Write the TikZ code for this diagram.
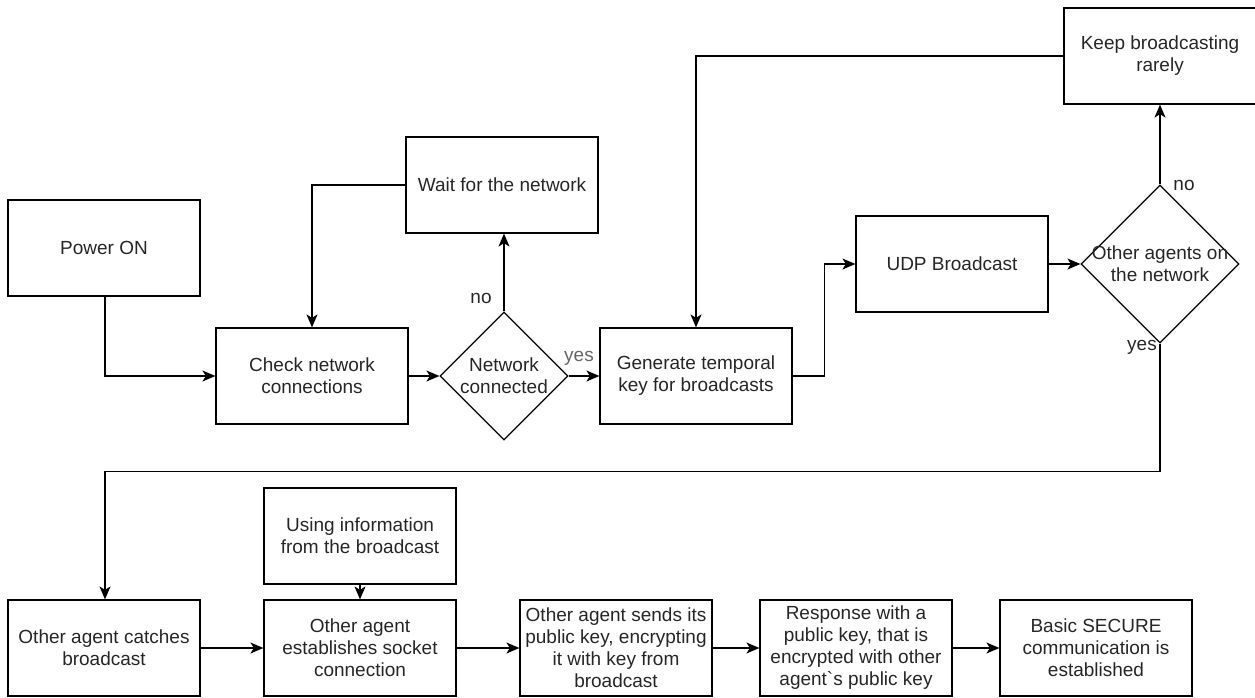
\documentclass[tikz,border=0pt]{standalone}
\usepackage{fontspec}
\setmainfont{Liberation Sans}
\usepackage{tikz}
\usetikzlibrary{arrows.meta, positioning, shapes.geometric}

\begin{document}
\begin{tikzpicture}[
    x=1pt, y=-1pt,
    box/.style={draw, line width=1.2pt, minimum width=192, minimum height=96, inner sep=1pt, align=center, text=black!85, font=\fontsize{19}{22}\selectfont},
    decision/.style={draw, diamond, line width=1.2pt, minimum size=#1, inner sep=0pt},
    dtext/.style={align=center, inner sep=0pt, text=black!85, font=\fontsize{19}{22}\selectfont},
    lbl/.style={inner sep=1pt, font=\fontsize{19}{22}\selectfont},
    arr/.style={-{Stealth[length=13pt, width=11pt, inset=3.5pt]}, line width=1.2pt},
    >=Stealth
]
\useasboundingbox (0,0) rectangle (1255,697);

% Start and network check
\node[box] (power) at (104, 248) {Power ON};
\node[box] (check) at (312, 376) {Check network\\connections};
\node[decision=128, label={[dtext]center:Network\\connected}] (net) at (504, 376) {};
\node[box] (wait) at (502, 185) {Wait for the network};
\draw[arr] ([xshift=1pt]power.south) |- (check.west);
\draw[arr] (check) -- (net);
\draw[arr] (net.north) -- (net.north |- wait.south);
\draw[arr] (wait.west) -| (check.north);
\node[lbl, text=black!85] (no1) at (481, 298) {no};

% Broadcast
\node[box] (gen) at (696, 376) {Generate temporal\\key for broadcasts};
\node[box] (udp) at (952, 264) {UDP Broadcast};
\node[decision=158, label={[dtext]center:Other agents on\\the network}] (others) at (1160, 264) {};
\node[box] (keep) at (1160, 56) {Keep broadcasting\\rarely};
\draw[arr] (net) -- (gen);
\node[lbl, text=black!60] (yes1) at (579, 358) {yes};
\draw[arr] (gen.east) -- ++(32,0) |- (udp.west);
\draw[arr] (udp) -- (others);
\draw[arr] (others.north) -- (keep.south);
\node[lbl, text=black!85] (no2) at (1184, 185) {no};
\draw[arr] (keep.west) -| (gen.north);
\node[lbl, text=black!85] (yes2) at (1142, 347) {yes};

% Other agent side
\node[box] (catch) at (104, 648) {Other agent catches\\broadcast};
\node[box] (establish) at (360, 648) {Other agent\\establishes socket\\connection};
\node[box] (using) at (360, 536) {Using information\\from the broadcast};
\node[box] (sends) at (616, 648) {Other agent sends its\\public key, encrypting\\it with key from\\broadcast};
\node[box] (response) at (856, 648) {Response with a\\public key, that is\\encrypted with other\\agent\textasciigrave s public key};
\node[box] (secure) at (1096, 648) {Basic SECURE\\communication is\\established};
\draw[arr] (others.south) -- ++(0,128) -| ([xshift=1pt]catch.north);
\draw[arr] (using) -- (establish);
\draw[arr] (catch) -- (establish);
\draw[arr] (establish) -- (sends);
\draw[arr] (sends) -- (response);
\draw[arr] (response) -- (secure);

\end{tikzpicture}
\end{document}
